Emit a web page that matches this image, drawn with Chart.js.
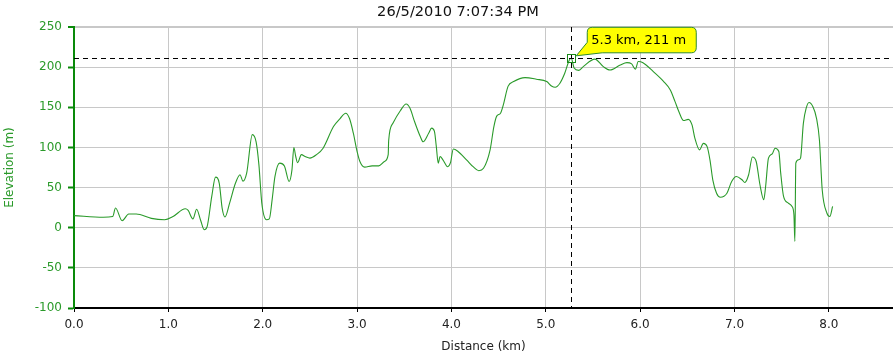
<!DOCTYPE html>
<html>
<head>
<meta charset="utf-8">
<script src="https://cdn.jsdelivr.net/npm/chart.js@4"></script>
<style>
html,body{margin:0;padding:0;background:#fff;}
#wrap{width:893px;height:359px;position:relative;}
</style>
</head>
<body>
<div id="wrap"><canvas id="c"></canvas></div>
<script>
// ---- data ----
const chartTitle = "26/5/2010 7:07:34 PM";
const xAxisTitle = "Distance (km)";
const yAxisTitle = "Elevation (m)";
const xTicks = [0, 1, 2, 3, 4, 5, 6, 7, 8];
const yTicks = [-100, -50, 0, 50, 100, 150, 200, 250];
const cursorKm = 5.27;
const cursorElev = 211;

const distKm = [
  0.00, 0.31, 0.41, 0.44, 0.51, 0.58, 0.66, 0.82, 0.96, 1.05, 1.18, 1.21, 1.26, 1.30, 1.34, 1.38, 1.41,
  1.46, 1.50, 1.54, 1.57, 1.60, 1.65, 1.71, 1.76, 1.79, 1.83, 1.89, 1.93, 1.96, 1.99, 2.04, 2.07,
  2.10, 2.13, 2.18, 2.23, 2.28, 2.31, 2.33, 2.35, 2.37, 2.41, 2.45, 2.50, 2.57, 2.64, 2.75, 2.82,
  2.88, 2.92, 2.96, 3.00, 3.03, 3.08, 3.16, 3.23, 3.29, 3.33, 3.335, 3.38, 3.46, 3.52, 3.56, 3.61,
  3.67, 3.70, 3.76, 3.79, 3.82, 3.84, 3.86, 3.88, 3.91, 3.96, 3.99, 4.02, 4.07, 4.16, 4.23, 4.29,
  4.34, 4.41, 4.45, 4.48, 4.52, 4.55, 4.60, 4.66, 4.78, 4.90, 5.01, 5.06, 5.10, 5.15, 5.20, 5.25,
  5.27, 5.30, 5.35, 5.40, 5.52, 5.61, 5.68, 5.79, 5.86, 5.91, 5.95, 5.98, 6.03, 6.14, 6.25, 6.32,
  6.37, 6.41, 6.46, 6.51, 6.55, 6.58, 6.63, 6.67, 6.71, 6.74, 6.77, 6.81, 6.85, 6.92, 6.97, 7.02,
  7.08, 7.11, 7.15, 7.19, 7.23, 7.27, 7.31, 7.33, 7.36, 7.40, 7.43, 7.47, 7.49, 7.52, 7.57, 7.61,
  7.63, 7.64, 7.65, 7.68, 7.70, 7.73, 7.76, 7.79, 7.83, 7.87, 7.90, 7.93, 7.98, 8.01, 8.04
];
const elevM = [
  15, 13, 14, 24.5, 8.7, 17, 17, 11.6, 10, 14, 23.6, 21.5, 11, 23, 10, -2.5, 1,
  39, 63, 55, 24.5, 13.3, 31, 55, 66, 58, 68, 116, 107, 78, 31, 10, 11,
  35, 64, 80.5, 77, 57.6, 72, 100, 88.7, 81, 91, 88.7, 86.7, 91, 99, 126, 136,
  142.6, 136, 118, 95, 82.5, 75.5, 77, 77, 82.5, 91, 108.6, 130, 146, 154, 149, 132,
  113.6, 107, 118, 124, 120, 101, 80.5, 88.7, 84.6, 76, 81, 98, 95, 84.6, 76, 71,
  74, 97, 126, 139, 142.6, 153, 176, 182, 187, 185, 182, 176.6, 175, 180, 192, 209,
  211, 199, 196, 201, 210, 200.6, 196.5, 202.7, 205.6, 204, 197.5, 207, 205.6, 194.4, 182, 171.6,
  157, 144.7, 133.5, 135, 128, 111.6, 97, 105, 101, 84.6, 59.7, 43, 38, 43, 57.6, 63.8,
  59.7, 56.4, 66, 88, 82.5, 53.5, 34.8, 51.4, 86.7, 92, 99, 95, 68, 39, 30.7, 26.5,
  16, -17, 80.5, 84.6, 86.7, 130, 149, 156, 151, 136, 109.5, 47, 18, 14, 26.5
];

const FONT = "'DejaVu Sans', Verdana, sans-serif";
const GREEN_AXIS = '#0a8a0a';
const GREEN_TEXT = '#2a9a2a';
const LINE_COLOR = '#2a9a2a';
const GRID = '#c8c8c8';

const overlayPlugin = {
  id: 'overlay',
  afterDatasetsDraw(chart) {
    const {ctx, chartArea: a, scales: {x, y}} = chart;
    const px = x.getPixelForValue(cursorKm);
    const py = y.getPixelForValue(cursorElev);
    ctx.save();
    ctx.strokeStyle = '#000';
    ctx.lineWidth = 1;
    ctx.setLineDash([5, 4]);
    ctx.beginPath();
    ctx.moveTo(a.left, Math.round(py) + 0.5);
    ctx.lineTo(a.right, Math.round(py) + 0.5);
    ctx.moveTo(Math.round(px) + 0.5, a.top);
    ctx.lineTo(Math.round(px) + 0.5, a.bottom);
    ctx.stroke();
    ctx.setLineDash([]);
    ctx.strokeStyle = '#1a8a1a';
    ctx.strokeRect(Math.round(px) - 4 + 0.5, Math.round(py) - 4 + 0.5, 8, 8);
    const L = px + 16, T = py - 31, W = 109, H = 25.5, r = 5;
    const R = L + W, B = T + H;
    ctx.beginPath();
    ctx.moveTo(L + r, T);
    ctx.lineTo(R - r, T);
    ctx.quadraticCurveTo(R, T, R, T + r);
    ctx.lineTo(R, B - r);
    ctx.quadraticCurveTo(R, B, R - r, B);
    ctx.lineTo(L + 15, B);
    ctx.lineTo(px + 5, py - 2.5);
    ctx.lineTo(L, T + 15);
    ctx.lineTo(L, T + r);
    ctx.quadraticCurveTo(L, T, L + r, T);
    ctx.closePath();
    ctx.fillStyle = '#ffff00';
    ctx.fill();
    ctx.strokeStyle = '#2e8b2e';
    ctx.lineWidth = 1;
    ctx.stroke();
    ctx.fillStyle = '#000';
    ctx.font = '13px ' + FONT;
    ctx.textBaseline = 'middle';
    ctx.textAlign = 'left';
    ctx.fillText(cursorKm.toFixed(1) + ' km, ' + Math.round(cursorElev) + ' m', L + 4, T + H / 2 + 0.5);
    ctx.restore();
  },
  afterDraw(chart) {
    const ctx = chart.ctx;
    ctx.save();
    ctx.fillStyle = '#111';
    ctx.font = '14.6px ' + FONT;
    ctx.textAlign = 'center';
    ctx.textBaseline = 'middle';
    ctx.fillText(chartTitle, 458, 12);
    ctx.restore();
  }
};

new Chart(document.getElementById('c'), {
  type: 'line',
  data: {
    datasets: [{
      data: distKm.map((d, i) => ({x: d, y: elevM[i]})),
      borderColor: LINE_COLOR,
      borderWidth: 1.1,
      pointRadius: 0,
      fill: false,
      cubicInterpolationMode: 'monotone'
    }]
  },
  options: {
    responsive: true,
    maintainAspectRatio: false,
    animation: false,
    events: [],
    layout: {padding: {top: 27, right: 0, left: 0, bottom: 0}},
    plugins: {legend: {display: false}, tooltip: {enabled: false}, title: {display: false}},
    scales: {
      x: {
        type: 'linear',
        min: 0,
        max: 8.68,
        afterBuildTicks: s => { s.ticks = xTicks.map(v => ({value: v})); },
        afterFit: s => { s.height = 51; },
        ticks: {
          color: '#222',
          font: {family: FONT, size: 12},
          padding: 6,
          callback: v => Number(v).toFixed(1)
        },
        grid: {color: GRID, lineWidth: 1, tickColor: '#000', tickLength: 4, drawTicks: true},
        border: {display: true, color: '#000', width: 2},
        title: {display: true, text: xAxisTitle, color: '#222', font: {family: FONT, size: 12}, padding: {top: 4, bottom: 5}}
      },
      y: {
        min: -100,
        max: 250,
        afterBuildTicks: s => { s.ticks = yTicks.map(v => ({value: v})); },
        afterFit: s => { s.width = 74; },
        ticks: {
          color: GREEN_TEXT,
          font: {family: FONT, size: 12},
          padding: 6
        },
        grid: {
          color: GRID,
          lineWidth: c => (c.tick && c.tick.value === 250 ? 2 : 1),
          tickColor: GREEN_AXIS,
          tickLength: 6,
          tickWidth: 2
        },
        border: {display: true, color: GREEN_AXIS, width: 2},
        title: {display: true, text: yAxisTitle, color: GREEN_TEXT, font: {family: FONT, size: 12}, padding: {top: 3, bottom: 2}}
      }
    }
  },
  plugins: [overlayPlugin]
});
</script>
</body>
</html>
